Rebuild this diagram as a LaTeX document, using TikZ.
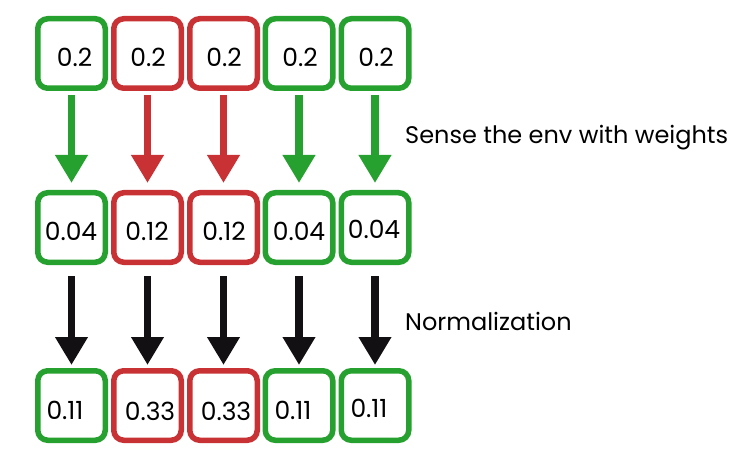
\documentclass[tikz,border=0pt]{standalone}
\usepackage{fontspec}
\setmainfont{Poppins}
\usetikzlibrary{arrows.meta}
\definecolor{boxgreen}{RGB}{38,160,46}
\definecolor{boxred}{RGB}{200,50,52}
\definecolor{arrowblack}{RGB}{18,16,18}
\tikzset{
  cell/.style={draw, line width=5.5pt, rounded corners=10pt, minimum width=67.5pt, minimum height=69.5pt, inner sep=0pt},
  gcell/.style={cell, draw=boxgreen},
  rcell/.style={cell, draw=boxred},
  num/.style={font=\fontsize{25}{26}\selectfont, inner sep=0pt},
  note/.style={font=\fontsize{24}{26}\selectfont, anchor=west, inner sep=0pt},
  bigarrow/.style={line width=7.5pt, -{Triangle[width=31pt,length=28pt]}},
}
\begin{document}
\begin{tikzpicture}[x=1pt,y=-1pt]
\useasboundingbox (0,0) rectangle (746,462);
% row 1
\node[gcell] (a1) at (71.5,53.5) {};
\node[rcell] (a2) at (147.5,53.5) {};
\node[rcell] (a3) at (223.5,53.5) {};
\node[gcell] (a4) at (299,53.5) {};
\node[gcell] (a5) at (375,53.5) {};
% row 2
\node[gcell] (b1) at (71.5,227.5) {};
\node[rcell] (b2) at (147.5,227.5) {};
\node[rcell] (b3) at (223.5,227.5) {};
\node[gcell] (b4) at (299,227.5) {};
\node[gcell] (b5) at (375,227.5) {};
% row 3
\node[gcell] (c1) at (71.5,405.5) {};
\node[rcell] (c2) at (147.5,405.5) {};
\node[rcell] (c3) at (223.5,405.5) {};
\node[gcell] (c4) at (299,405.5) {};
\node[gcell] (c5) at (375,405.5) {};
% numbers
\node[num] (ta1) at (74.5,57) {0.2};
\node[num] (ta2) at (148,57) {0.2};
\node[num] (ta3) at (224,57) {0.2};
\node[num] (ta4) at (300,57) {0.2};
\node[num] (ta5) at (376,57) {0.2};
\node[num] (tb1) at (71,231) {0.04};
\node[num] (tb2) at (147,231) {0.12};
\node[num] (tb3) at (224,231) {0.12};
\node[num] (tb4) at (299,231) {0.04};
\node[num] (tb5) at (374,229) {0.04};
\node[num] (tc1) at (65,410) {0.11};
\node[num] (tc2) at (150,411) {0.33};
\node[num] (tc3) at (226,411) {0.33};
\node[num] (tc4) at (293,410) {0.11};
\node[num] (tc5) at (369,408) {0.11};
% arrows row 1 -> row 2
\draw[bigarrow, draw=boxgreen, fill=boxgreen, shorten <=4pt, shorten >=7pt] (a1) -- (b1);
\draw[bigarrow, draw=boxred, fill=boxred, shorten <=4pt, shorten >=7pt] (a2) -- (b2);
\draw[bigarrow, draw=boxred, fill=boxred, shorten <=4pt, shorten >=7pt] (a3) -- (b3);
\draw[bigarrow, draw=boxgreen, fill=boxgreen, shorten <=4pt, shorten >=7pt] (a4) -- (b4);
\draw[bigarrow, draw=boxgreen, fill=boxgreen, shorten <=4pt, shorten >=7pt] (a5) -- (b5);
% arrows row 2 -> row 3
\foreach \c in {1,...,5}{
  \draw[bigarrow, draw=arrowblack, fill=arrowblack, shorten <=11pt, shorten >=3pt] (b\c) -- (c\c);
}
% notes
\node[note] (sense) at (405,138) {Sense the env with weights};
\node[note] (norm) at (405,321) {Normalization};
\end{tikzpicture}
\end{document}
